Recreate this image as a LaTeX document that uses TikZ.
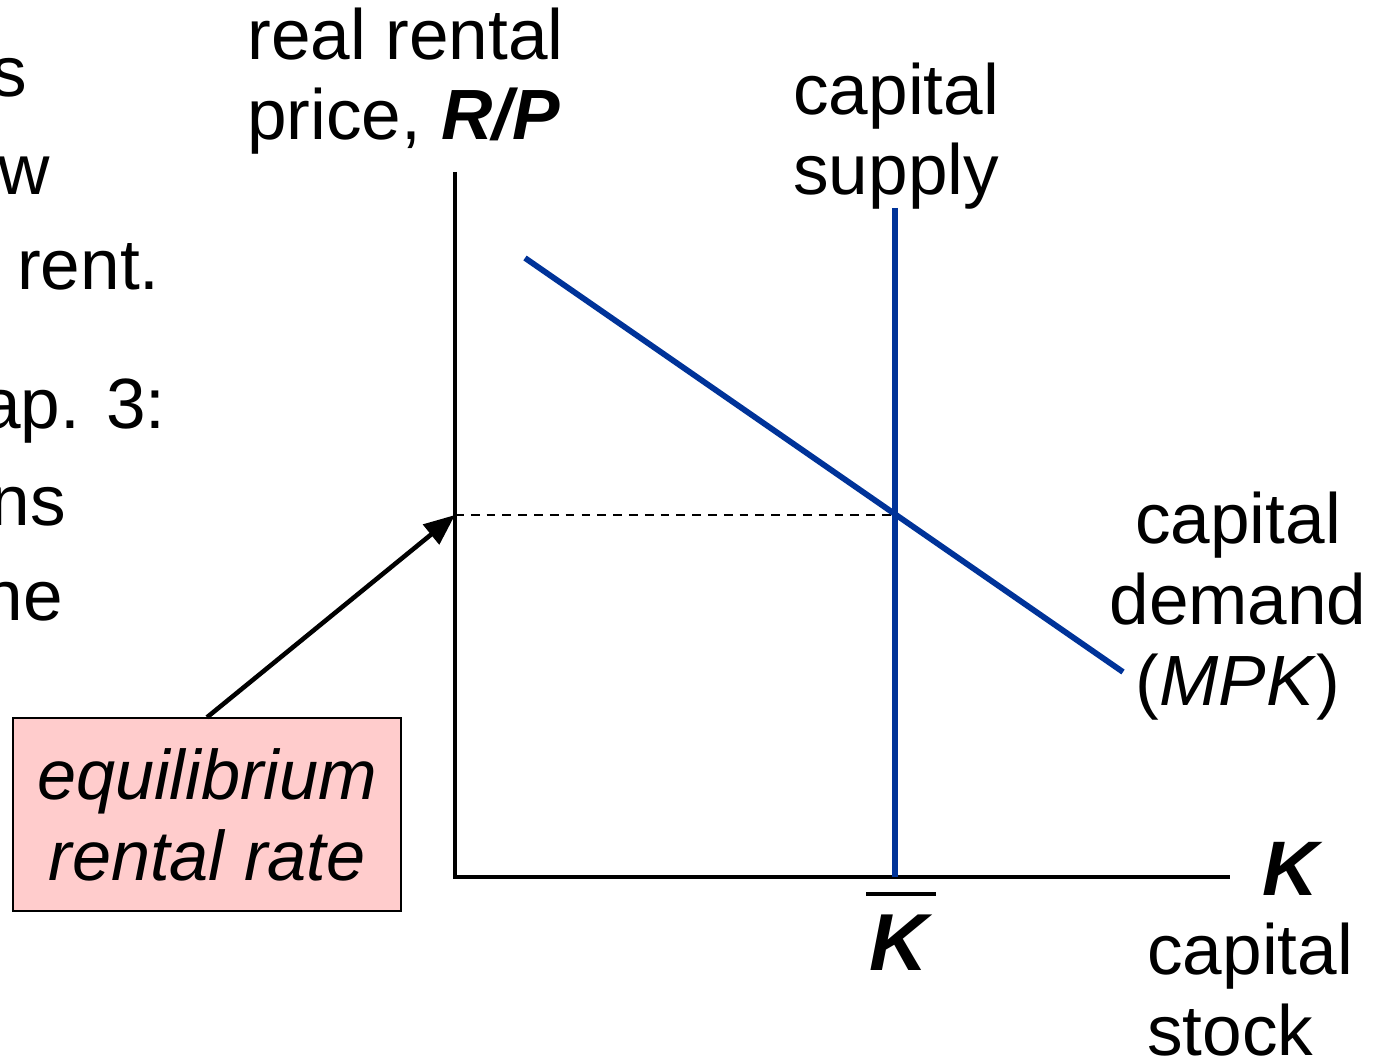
\documentclass[tikz,border=0pt]{standalone}
\usepackage{fontspec}
\setmainfont{Liberation Sans}
\usepackage{xcolor}
\usetikzlibrary{arrows.meta,positioning,calc}
\definecolor{curveBlue}{HTML}{003399}
\definecolor{boxPink}{HTML}{FFCCCC}

\begin{document}
\begin{tikzpicture}[
  x=0.02cm,y=-0.02cm,
  font=\fontsize{40.5}{46}\selectfont,
  lbl/.style={inner sep=0pt,align=left},
  axis/.style={line width=2pt,black},
  curve/.style={line width=3.3pt,curveBlue},
  box/.style={draw=black,line width=0.8pt,fill=boxPink,minimum width=7.76cm,minimum height=3.86cm,align=center,inner sep=0pt,font=\fontsize{40}{46}\selectfont\itshape},
  arr/.style={-{Triangle[length=0.62cm,width=0.5cm]},line width=2.6pt,black}
]
\useasboundingbox (0,0) rectangle (1378,1060);
% clipped text of the slide beside the graph
\node[lbl,anchor=base east] (frag1) at (27,97)  {s};
\node[lbl,anchor=base east] (frag2) at (50,195) {w};
\node[lbl,anchor=base east] (frag3) at (160,290) {rent.};
\node[lbl,anchor=base east] (frag4) at (166,428) {ap. 3:};
\node[lbl,anchor=base east] (frag5) at (66,525) {ns};
\node[lbl,anchor=base east] (frag6) at (63,620) {ne};
% axes
\coordinate (origin) at (455,877);
\coordinate (ytop) at (455,172);
\coordinate (xend) at (1230,877);
\draw[axis] (ytop) -- (origin) -- (xend);
% curves
\coordinate (dtop) at (525,258);
\coordinate (dend) at (1123,672);
\coordinate (stop) at (895,208);
\coordinate (sbot) at (895,877);
\coordinate (eq) at (895,515);
\coordinate (eqaxis) at (455,515);
\draw[line width=0.9pt,dash pattern=on 5pt off 4pt] (eqaxis) -- (eq);
\draw[curve] (dtop) -- (dend);
\draw[curve] (stop) -- (sbot);
% labels
\node[lbl,anchor=base west] (rentlabel) at (247,140)
  {real rental\\price, \textbf{\textit{R/P}}};
\node[lbl,anchor=base west] (supplylabel) at (793,195) {capital\\supply};
\node[lbl,anchor=base,align=center] (demandlabel) at (1238,705) {capital\\demand\\(\textit{MPK})};
\node[lbl,anchor=base west] (klabel) at (1262,895) {\fontsize{44}{46}\selectfont\textbf{\textit{K}}};
\node[lbl,anchor=base west] (stocklabel) at (1147,1055) {capital\\stock};
\node[lbl,anchor=base] (kbar) at (901,970) {\fontsize{46}{48}\selectfont\textbf{\textit{K}}};
\draw[line width=2.2pt] (866,894) -- (936,894);
% equilibrium box and arrow
\node[box] (eqbox) at (207,814.5) {equilibrium\\rental rate};
\draw[arr] (eqbox.north) -- (eqaxis);
\end{tikzpicture}
\end{document}
